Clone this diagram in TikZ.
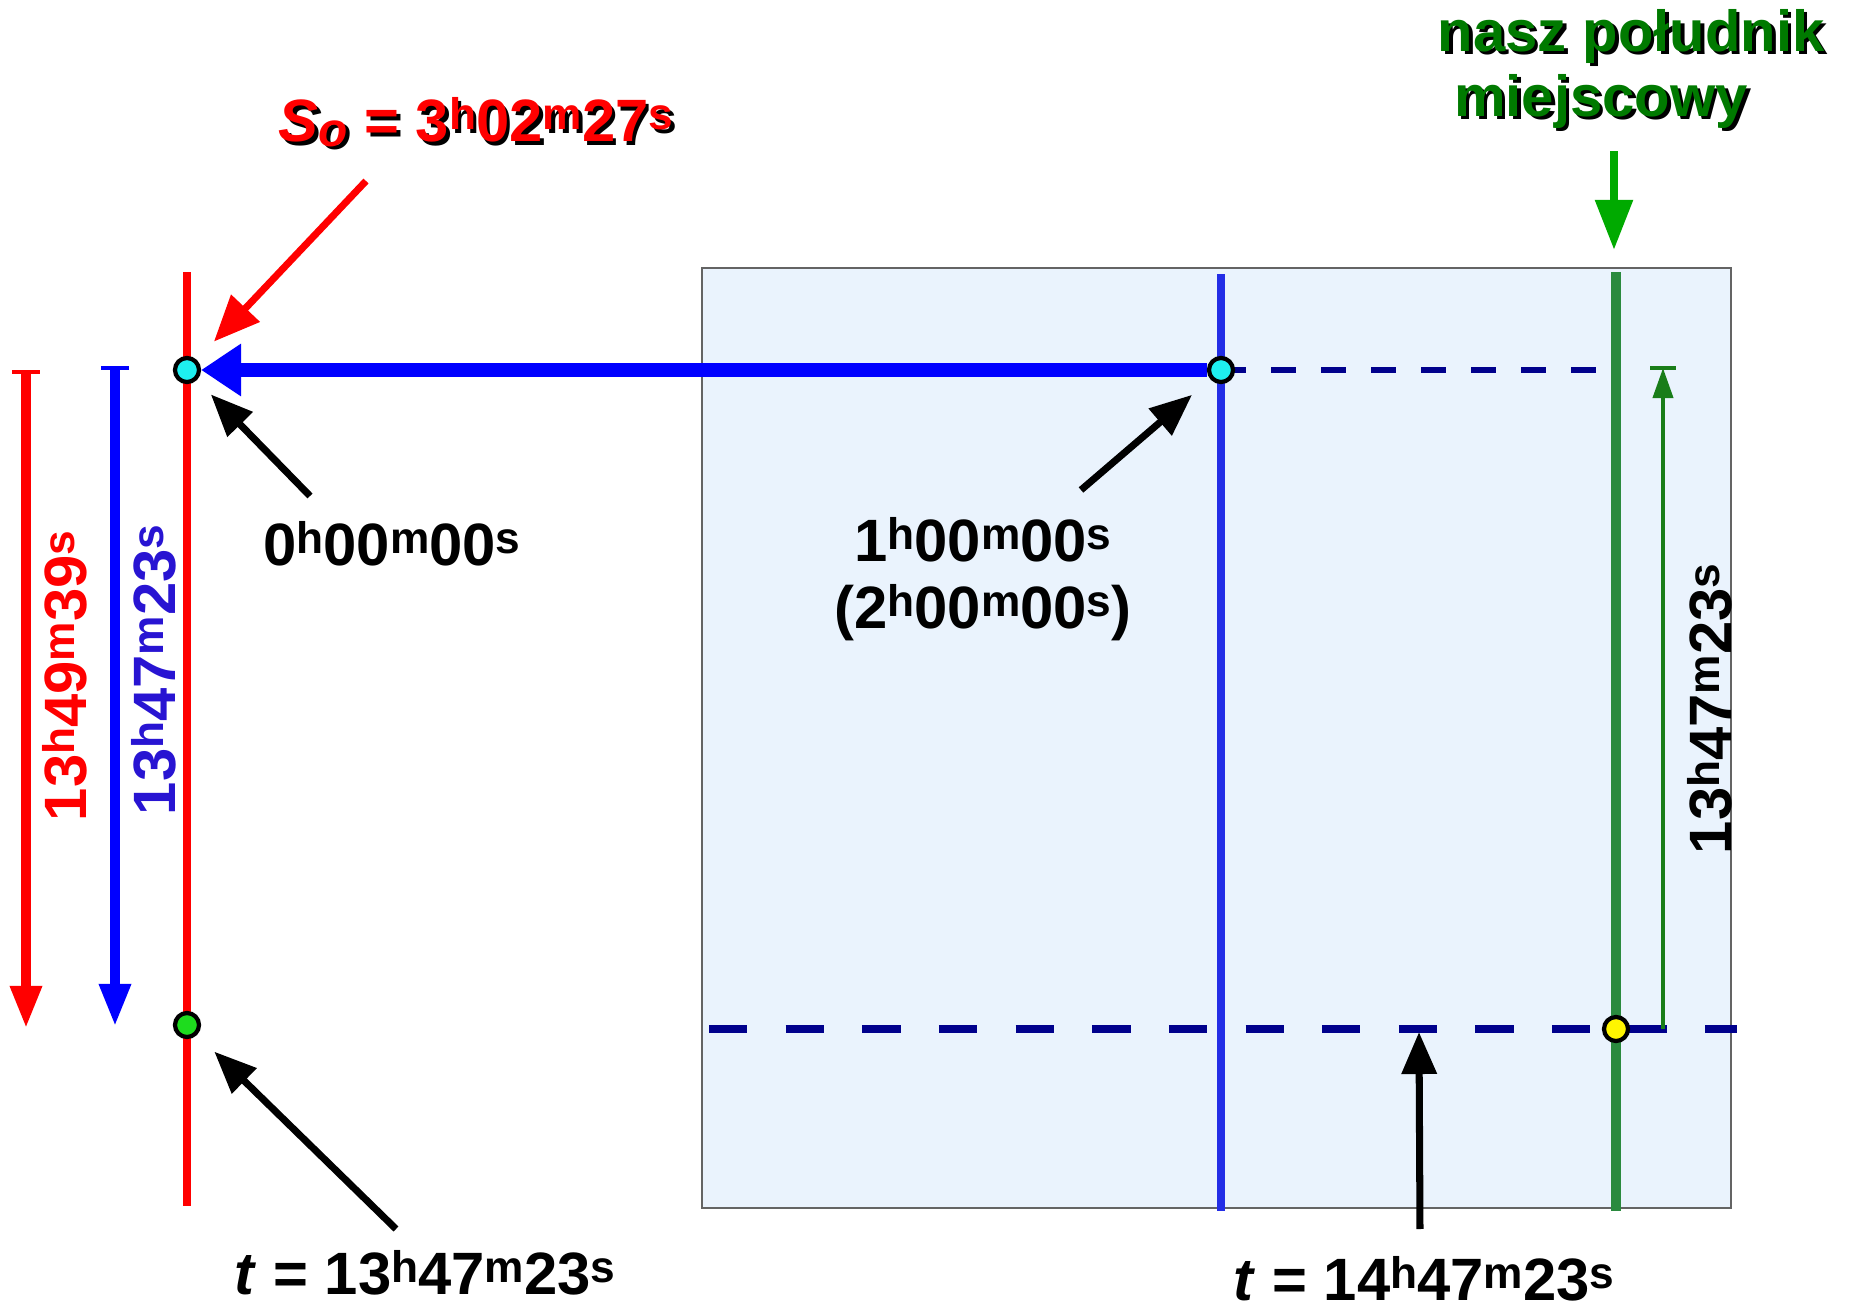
\documentclass[tikz,border=0pt]{standalone}
\usepackage{fontspec}
\setmainfont{Liberation Sans}
\usepackage{graphicx}
\usetikzlibrary{arrows.meta,calc}
\definecolor{cyanpt}{RGB}{30,240,240}
\definecolor{boxfill}{RGB}{234,243,253}
\definecolor{boxline}{RGB}{100,100,100}
\definecolor{bluev}{RGB}{35,45,230}
\definecolor{bigblue}{RGB}{0,0,255}
\definecolor{navyd}{RGB}{0,0,140}
\definecolor{greenv}{RGB}{42,138,62}
\definecolor{greentitle}{RGB}{0,122,0}
\definecolor{greenarrow}{RGB}{0,170,0}
\definecolor{greenthin}{RGB}{25,125,25}
\definecolor{bluelabel}{RGB}{40,20,210}
\definecolor{greenpt}{RGB}{30,220,30}
\definecolor{yellowpt}{RGB}{255,245,0}
\newcommand\hu[1]{\raisebox{0.2em}{\scalebox{0.74}{#1}}}
\newcommand\shtext[2]{\leavevmode\rlap{\kern1pt\raisebox{-1pt}{\color{black}#2}}{\color{#1}#2}}
\pgfdeclarelayer{back}
\pgfdeclarelayer{mid}
\pgfsetlayers{back,mid,main}
\begin{document}
\begin{tikzpicture}[x=0.01cm,y=-0.01cm,
  lbl/.style={font=\fontsize{17}{19}\selectfont\bfseries, inner sep=0pt},
  pt/.style={circle, draw=black, line width=1.2pt, minimum size=0.24cm, inner sep=0pt},
  blk/.style={draw=black, line width=2pt, -{Triangle[length=0.42cm,width=0.34cm]}},
  redarr/.style={draw=red, line width=2pt, -{Triangle[length=0.46cm,width=0.38cm]}},
  leftarr/.style={line width=2.6pt, {Bar[width=0.28cm,line width=1.2pt]}-{Triangle[length=0.42cm,width=0.3cm]}},
]
\useasboundingbox (0,0) rectangle (1853,1309);
\begin{pgfonlayer}{back}
\fill[boxfill, draw=boxline, line width=0.5pt] (702,268) rectangle (1731,1208);
\draw[red, line width=2.3pt] (187,272) -- (187,1206);
\draw[bluev, line width=2.3pt] (1221,274) -- (1221,1211);
\draw[greenv, line width=2.8pt] (1616,272) -- (1616,1211);
\end{pgfonlayer}

% points
\node[pt, fill=cyanpt] (P0) at (187,370) {};
\node[pt, fill=cyanpt] (P1) at (1221,370) {};
\node[pt, fill=greenpt] (Pg) at (187,1025) {};
\node[pt, fill=yellowpt] (Py) at (1616,1029) {};

% coordinates
\coordinate (dt) at (1601,370);
\coordinate (dL) at (709,1029);
\coordinate (dR) at (1737,1029);
\coordinate (ga0) at (1663,1029);
\coordinate (ga1) at (1663,368);
\coordinate (gb0) at (1650,368);
\coordinate (gb1) at (1676,368);
\coordinate (lr0) at (26,370);
\coordinate (lr1) at (26,1028);
\coordinate (lb0) at (115,366);
\coordinate (lb1) at (115,1026);
\coordinate (gt0) at (1614,151);
\coordinate (gt1) at (1614,250);
\coordinate (ra) at (366,181);
\coordinate (a0) at (310,496);
\coordinate (a1) at (1081,490);
\coordinate (at1) at (396,1229);
\coordinate (at2) at (1420,1229);
\coordinate (t14) at (1419,1032);

\begin{pgfonlayer}{mid}
\draw[navyd, line width=1.5pt, dash pattern=on 0.25cm off 0.25cm] (P1.center) -- (dt);
\draw[navyd, line width=2.3pt, dash pattern=on 0.383cm off 0.383cm] (dL) -- (dR);
\draw[bigblue, line width=4pt, -{Triangle[length=0.4cm,width=0.5cm]}] (P1) -- (P0);
\draw[greenthin, line width=1.1pt, -{Triangle[length=0.3cm,width=0.2cm]}] (ga0) -- (ga1);
\draw[greenthin, line width=1pt] (gb0) -- (gb1);
\draw[leftarr, red] (lr0) -- (lr1);
\draw[leftarr, bigblue] (lb0) -- (lb1);
\draw[greenarrow, line width=2.4pt, -{Triangle[length=0.5cm,width=0.36cm]}] (gt0) -- (gt1);
\draw[redarr, shorten >=0.25cm] (ra) -- (P0);
\draw[blk, shorten >=0.2cm] (a0) -- (P0);
\draw[blk, shorten >=0.24cm] (a1) -- (P1);
\draw[blk, shorten >=0.24cm] (at1) -- (Pg);
\draw[blk] (at2) -- (t14);
\end{pgfonlayer}

% labels
\node[lbl] (So) at (476,124) {\shtext{red}{\textit{S}\raisebox{-0.08em}{\scalebox{0.8}{\textit{o}}} = 3\hu{h}02\hu{m}27\hu{s}}};
\node[lbl, font=\fontsize{16.5}{19}\selectfont\bfseries] (G1) at (1631,38) {\shtext{greentitle}{nasz południk}};
\node[lbl, font=\fontsize{16.5}{19}\selectfont\bfseries] (G2) at (1601,103) {\shtext{greentitle}{miejscowy}};
\node[lbl, rotate=90, text=red] (Lr) at (65,676) {13\hu{h}49\hu{m}39\hu{s}};
\node[lbl, rotate=90, text=bluelabel] (Lb) at (154,670) {13\hu{h}47\hu{m}23\hu{s}};
\node[lbl, rotate=90] (Lk) at (1710,709) {13\hu{h}47\hu{m}23\hu{s}};
\node[lbl] (L0) at (392,544) {0\hu{h}00\hu{m}00\hu{s}};
\node[lbl, align=center] (L1) at (983,579) {1\hu{h}00\hu{m}00\hu{s}\\(2\hu{h}00\hu{m}00\hu{s})};
\node[lbl] (Lt1) at (425,1273) {\textit{t} = 13\hu{h}47\hu{m}23\hu{s}};
\node[lbl] (Lt2) at (1424,1279) {\textit{t} = 14\hu{h}47\hu{m}23\hu{s}};
\end{tikzpicture}
\end{document}
